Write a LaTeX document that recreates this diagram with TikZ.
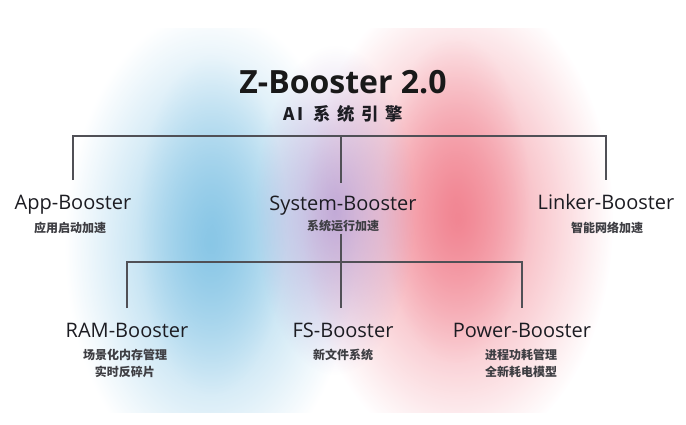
\documentclass[tikz,border=0pt]{standalone}
\usepackage{fontspec}
\setmainfont{Open Sans}
\newfontfamily\cjk{Noto Sans CJK SC}
\usetikzlibrary{fadings}

\tikzfading[name=glow, inner color=transparent!0, outer color=transparent!100]

\definecolor{skyblob}{RGB}{128,194,228}
\definecolor{roseblob}{RGB}{240,124,138}
\definecolor{lilacblob}{RGB}{186,160,212}
\definecolor{linegray}{RGB}{80,80,86}
\definecolor{textdark}{RGB}{28,28,34}

\tikzset{
  branch/.style={draw=linegray, line width=1pt},
  booster/.style={font=\fontsize{15}{18}\selectfont, text=textdark, inner sep=0pt, anchor=base},
  boostdesc/.style={font=\cjk\bfseries\fontsize{9}{12.4}\selectfont, text=textdark!85, inner sep=0pt, align=center, anchor=north},
}

\begin{document}
\begin{tikzpicture}[x=0.75pt,y=0.75pt,yscale=-1,xscale=1]
\useasboundingbox (0,0) rectangle (686,425);

%Shape: Glow blobs
\begin{scope}
\clip (0,28) rectangle (686,412);
\fill[skyblob, path fading=glow, opacity=0.85] (210,245) ellipse (145 and 235);
\fill[skyblob, path fading=glow, opacity=0.6] (212,225) ellipse (75 and 170);
\fill[roseblob, path fading=glow, opacity=0.85] (458,220) ellipse (155 and 235);
\fill[roseblob, path fading=glow, opacity=0.6] (455,200) ellipse (75 and 165);
\fill[lilacblob, path fading=glow, opacity=0.85] (335,210) ellipse (80 and 165);
\end{scope}

% Text Node
\node[font=\bfseries\fontsize{24}{28}\selectfont, text=black!90, inner sep=0pt, anchor=base] (title) at (343,93) {Z-Booster 2.0};
% Text Node
\node[font=\cjk\bfseries\fontsize{13}{15}\selectfont, text=textdark, inner sep=0pt, anchor=base] (subtitle) at (343,120) {A\hspace{2pt}I\hspace{7pt}系\hspace{5pt}统\hspace{5pt}引\hspace{5pt}擎};

% Text Node
\node[booster] (app) at (73,209) {App-Booster};
\node[boostdesc] (appd) at (70,222) {应用启动加速};
% Text Node
\node[booster] (sys) at (343,210) {System-Booster};
\node[boostdesc] (sysd) at (343,220) {系统运行加速};
% Text Node
\node[booster] (link) at (606,209) {Linker-Booster};
\node[boostdesc] (linkd) at (607,222) {智能网络加速};
% Text Node
\node[booster] (ram) at (127,337) {RAM-Booster};
\node[boostdesc] (ramd) at (125,349) {场景化内存管理\\实时反碎片};
% Text Node
\node[booster] (fs) at (343,337) {FS-Booster};
\node[boostdesc] (fsd) at (343,349) {新文件系统};
% Text Node
\node[booster] (pow) at (522,337) {Power-Booster};
\node[boostdesc] (powd) at (521,349) {进程功耗管理\\全新耗电模型};

%Straight Lines
\coordinate (hubtop) at (341,136);
\coordinate (hubmid) at (341,262);
\coordinate (upperfoot) at (0,180);
\coordinate (lowerfoot) at (0,308);
\draw[branch] (app.north |- upperfoot) |- (hubtop) -| (link.north |- upperfoot);
\draw[branch] (hubtop) -- ([yshift=-9pt]hubtop |- sys.north);
%Straight Lines
\draw[branch] ([yshift=1pt]hubmid |- sysd.south) -- (hubmid);
\draw[branch] (ram.north |- lowerfoot) |- (hubmid) -| (pow.north |- lowerfoot);
\draw[branch] (hubmid) -- (hubmid |- lowerfoot);

\end{tikzpicture}
\end{document}
